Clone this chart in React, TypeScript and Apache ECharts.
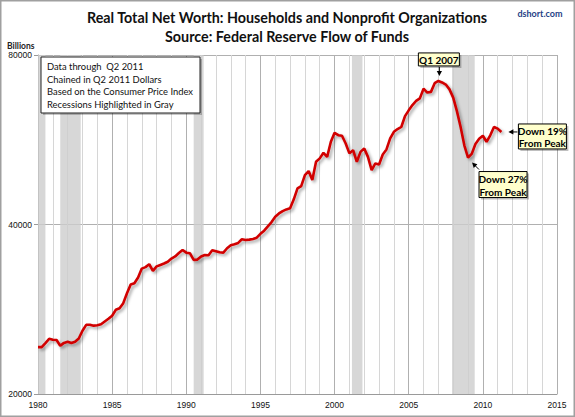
import { useEffect, useRef } from "react";
import * as echarts from "echarts";

// Quarterly real net worth, billions of Q2 2011 dollars, Q1 1980 .. Q2 2011
const FIRST_YEAR = 1980;
const netWorth = [
  24230, 24230, 24630, 25060, 24960, 24940, 24360, 24650, 24760, 24630,
  24760, 25100, 25900, 26540, 26540, 26450, 26500, 26600, 26900, 27200,
  27550, 28220, 28400, 29000, 30200, 31300, 31450, 32200, 33400, 33600,
  34000, 33100, 33700, 33900, 34100, 34350, 34800, 35100, 35600, 36050,
  35650, 35550, 34600, 34650, 35100, 35300, 35270, 36000, 35850, 35700,
  35650, 36300, 36750, 36900, 37100, 37650, 37550, 37600, 37700, 37900,
  38500, 39000, 39700, 40400, 41300, 41850, 42250, 42550, 42740, 44330,
  46370, 46810, 48960, 49760, 47970, 51690, 52420, 53620, 52740, 56100,
  58190, 57640, 57500, 55720, 53500, 54220, 51690, 53840, 54600, 52740,
  49960, 51340, 51130, 53270, 54370, 56880, 58430, 59100, 59600, 62300,
  63800, 65200, 66300, 67000, 69700, 68600, 68800, 71300, 71950, 71500,
  70900, 69500, 67200, 63600, 59600, 55300, 52600, 53400, 55600, 56800,
  57500, 56100, 57600, 59600, 59200, 58400,
];

// NBER recessions as fractional years
const recessions: [number, number][] = [
  [1980.0, 1980.5],
  [1981.5, 1982.88],
  [1990.5, 1991.17],
  [2001.17, 2001.88],
  [2007.92, 2009.45],
];

const xTicks = { min: 1980, max: 2015, labelStep: 5 };
const yBase = 20000; // bottom of the log axis; each tick doubles it
const yDoublings = 2; // 20000 -> 40000 -> 80000

const titleLines = [
  "Real Total Net Worth: Households and Nonprofit Organizations",
  "Source: Federal Reserve Flow of Funds",
];
const noteLines = [
  "Data through  Q2 2011",
  "Chained in Q2 2011 Dollars",
  "Based on the Consumer Price Index",
  "Recessions Highlighted in Gray",
];

const FONT = "Lato, 'Open Sans', sans-serif";
const AXIS_FONT = "'Liberation Sans', Arial, sans-serif";
const TOP_Z = 100;

const toLog = (v: number) => Math.log2(v / yBase);
const quarterX = (i: number) => FIRST_YEAR + i / 4;

function arrow(x1: number, y1: number, x2: number, y2: number) {
  const dx = x2 - x1;
  const dy = y2 - y1;
  const len = Math.hypot(dx, dy) || 1;
  const ux = dx / len;
  const uy = dy / len;
  const head = 5;
  const half = 2.6;
  return [
    {
      type: "line",
      shape: { x1, y1, x2: x2 - ux * head * 0.6, y2: y2 - uy * head * 0.6 },
      style: { stroke: "#000", lineWidth: 1 },
    },
    {
      type: "polygon",
      shape: {
        points: [
          [x2, y2],
          [x2 - ux * head - uy * half, y2 - uy * head + ux * half],
          [x2 - ux * head + uy * half, y2 - uy * head - ux * half],
        ],
      },
      style: { fill: "#000" },
    },
  ];
}

function callout(lines: string[], x: number, y: number, w: number, h: number) {
  const lh = h / lines.length;
  return [
    {
      type: "rect",
      shape: { x: x + 2, y: y + 2, width: w, height: h },
      style: { fill: "rgba(0,0,0,0.25)" },
    },
    {
      type: "rect",
      shape: { x, y, width: w, height: h },
      style: { fill: "#FFFFCC", stroke: "#000", lineWidth: 1 },
    },
    ...lines.map((t, k) => ({
      type: "text",
      style: {
        text: t,
        x: x + w / 2,
        y: y + lh * (k + 0.5) + 0.5,
        align: "center",
        verticalAlign: "middle",
        fontFamily: FONT,
        fontWeight: "bold",
        fontSize: 10,
        fill: "#000",
      },
    })),
  ];
}

export default function App() {
  const ref = useRef<HTMLDivElement>(null);

  useEffect(() => {
    if (!ref.current) return;
    const chart = echarts.init(ref.current, null, { renderer: "svg" });

    const seriesData = netWorth.map((v, i) => [quarterX(i), toLog(v)]);

    // one vertical line per year, the five-year ones a little darker
    const yearLineColors = ["#b0b0b0", "#d6d6d6", "#d6d6d6", "#d6d6d6", "#d6d6d6"];

    chart.setOption({
      animation: false,
      backgroundColor: "#fff",
      grid: { left: 38, right: 18, top: 55, bottom: 23, containLabel: false },
      xAxis: {
        type: "value",
        min: xTicks.min,
        max: xTicks.max,
        interval: 1,
        axisLine: { show: true, lineStyle: { color: "#9a9a9a", width: 1 } },
        axisTick: { show: false },
        axisLabel: {
          color: "#111",
          fontFamily: AXIS_FONT,
          fontSize: 8.5,
          margin: 6,
          showMinLabel: true,
          showMaxLabel: true,
          formatter: (v: number) =>
            (v - xTicks.min) % xTicks.labelStep === 0 ? String(v) : "",
        },
        splitLine: { show: true, lineStyle: { color: yearLineColors, width: 1 } },
      },
      yAxis: {
        type: "value",
        min: 0,
        max: yDoublings,
        interval: 1,
        axisLine: { show: true, lineStyle: { color: "#9a9a9a", width: 1 } },
        axisTick: { show: true, length: 4, lineStyle: { color: "#9a9a9a" } },
        axisLabel: {
          color: "#111",
          fontFamily: AXIS_FONT,
          fontSize: 8.5,
          margin: 6,
          formatter: (v: number) => String(Math.round(yBase * Math.pow(2, v))),
        },
        splitLine: { show: true, lineStyle: { color: "#b0b0b0", width: 1 } },
      },
      series: [
        {
          type: "line",
          data: seriesData,
          showSymbol: false,
          symbol: "none",
          z: 5,
          lineStyle: {
            color: "#D10000",
            width: 2.6,
            shadowColor: "rgba(0,0,0,0.35)",
            shadowBlur: 3,
            shadowOffsetX: 2,
            shadowOffsetY: 2,
          },
          markArea: {
            silent: true,
            itemStyle: { color: "rgba(205,205,205,0.8)" },
            data: recessions.map(([a, b]) => [{ xAxis: a }, { xAxis: b }]),
          },
        },
      ],
    });

    const px = (i: number) =>
      chart.convertToPixel({ gridIndex: 0 }, seriesData[i] as number[]) as number[];

    let peakI = 0;
    netWorth.forEach((v, i) => {
      if (v > netWorth[peakI]) peakI = i;
    });
    let troughI = peakI;
    for (let i = peakI; i < netWorth.length; i++) {
      if (netWorth[i] < netWorth[troughI]) troughI = i;
    }
    const lastI = netWorth.length - 1;
    const [pX, pY] = px(peakI);
    const [tX, tY] = px(troughI);
    const [lX, lY] = px(lastI);

    const peakQ = `Q${(peakI % 4) + 1} ${FIRST_YEAR + Math.floor(peakI / 4)}`;
    const dropTrough = Math.round((1 - netWorth[troughI] / netWorth[peakI]) * 100);
    const dropLast = Math.round((1 - netWorth[lastI] / netWorth[peakI]) * 100);

    const elements: any[] = [
      // outer frame
      {
        type: "rect",
        shape: { x: 0.75, y: 0.75, width: 573.5, height: 415.5 },
        style: { fill: "none", stroke: "#a0a0a0", lineWidth: 1.5 },
      },
      ...titleLines.map((t, k) => ({
        type: "text",
        style: {
          text: t,
          x: 287,
          y: 17.5 + k * 19,
          align: "center",
          verticalAlign: "middle",
          fontFamily: FONT,
          fontWeight: "bold",
          fontSize: 14.3,
          fill: "#111",
        },
      })),
      {
        type: "text",
        style: {
          text: "dshort.com",
          x: 540,
          y: 13.5,
          align: "center",
          verticalAlign: "middle",
          fontFamily: FONT,
          fontWeight: "bold",
          fontSize: 9,
          fill: "#1F3F86",
        },
      },
      {
        type: "text",
        style: {
          text: "Billions",
          x: 7,
          y: 45.5,
          align: "left",
          verticalAlign: "middle",
          fontFamily: FONT,
          fontWeight: "bold",
          fontSize: 8.5,
          fill: "#222",
        },
      },
      // notes box
      {
        type: "rect",
        shape: { x: 43, y: 59, width: 159, height: 56 },
        style: { fill: "rgba(0,0,0,0.22)" },
      },
      {
        type: "rect",
        shape: { x: 41, y: 57, width: 159, height: 56 },
        style: { fill: "#fff", stroke: "#222", lineWidth: 1 },
      },
      ...noteLines.map((t, k) => ({
        type: "text",
        style: {
          text: t,
          x: 47,
          y: 66.5 + k * 12.6,
          align: "left",
          verticalAlign: "middle",
          fontFamily: FONT,
          fontSize: 9.4,
          fill: "#111",
        },
      })),
      // peak callout
      ...callout([peakQ], pX - 20, pY - 28, 41, 13),
      ...arrow(pX + 1, pY - 14, pX + 1, pY - 5),
      // trough callout
      ...callout([`Down ${dropTrough}%`, "From Peak"], tX + 11, tY + 14, 48, 26),
      ...arrow(tX + 11, tY + 12, tX + 4, tY + 5),
      // latest callout
      ...callout([`Down ${dropLast}%`, "From Peak"], lX + 17, lY - 8, 48, 25),
      ...arrow(lX + 16, lY, lX + 7, lY),
    ];

    chart.setOption({
      graphic: elements.map((el) => ({ ...el, z: TOP_Z, silent: true })),
    });

    return () => chart.dispose();
  }, []);

  return (
    <div
      ref={ref}
      style={{ position: "fixed", left: 0, top: 0, width: 575, height: 417 }}
    />
  );
}
